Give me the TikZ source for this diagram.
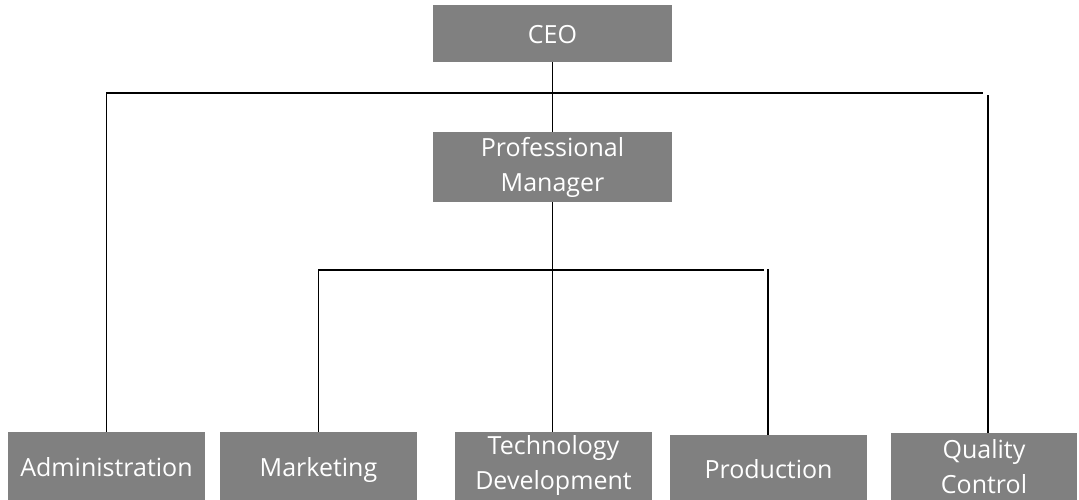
\documentclass[tikz,border=0pt]{standalone}
\usepackage{fontspec}
\setmainfont{Open Sans}
\definecolor{boxgray}{RGB}{128,128,128}
\begin{document}
\begin{tikzpicture}[x=1pt,y=-1pt,
  orgbox/.style={fill=boxgray, draw=none, text=white, align=center, inner sep=0pt,
    font=\fontsize{25}{35}\selectfont},
  oneline/.style={text height=25pt, text depth=4pt},
  conn/.style={draw=black, line width=1.4pt}]
\useasboundingbox (0,0) rectangle (1079,500);
% boxes
\node[orgbox, oneline, minimum width=239pt, minimum height=57pt] (ceo) at (552.5,33.5) {CEO};
\node[orgbox, minimum width=239pt, minimum height=70pt] (pm) at (552.5,167) {Professional\\Manager};
\node[orgbox, oneline, minimum width=197pt, minimum height=68pt] (adm) at (106.5,466) {Administration};
\node[orgbox, oneline, minimum width=197pt, minimum height=68pt] (mkt) at (318.5,466) {Marketing};
\node[orgbox, minimum width=197pt, minimum height=68pt] (tech) at (553.5,466) {Technology\\Development};
\node[orgbox, oneline, minimum width=197pt, minimum height=65pt] (prod) at (768.5,467.5) {Production};
\node[orgbox, minimum width=186pt, minimum height=67pt] (qc) at (984,466.5) {Quality\\Control};
% connector coordinates
\coordinate (h1r) at (983,93);
\coordinate (qctop) at (988,95);
\coordinate (h2r) at (764,270);
\coordinate (prodtop) at (768,269);
% connectors
\draw[conn] (ceo.south) -- (pm.north);
\draw[conn] (adm.north) |- (h1r);
\draw[conn] (qc.north -| qctop) -- (qctop);
\draw[conn] (pm.south) -- (pm.south |- tech.north);
\draw[conn] (mkt.north) |- (h2r);
\draw[conn] (prod.north -| prodtop) -- (prodtop);
\end{tikzpicture}
\end{document}
